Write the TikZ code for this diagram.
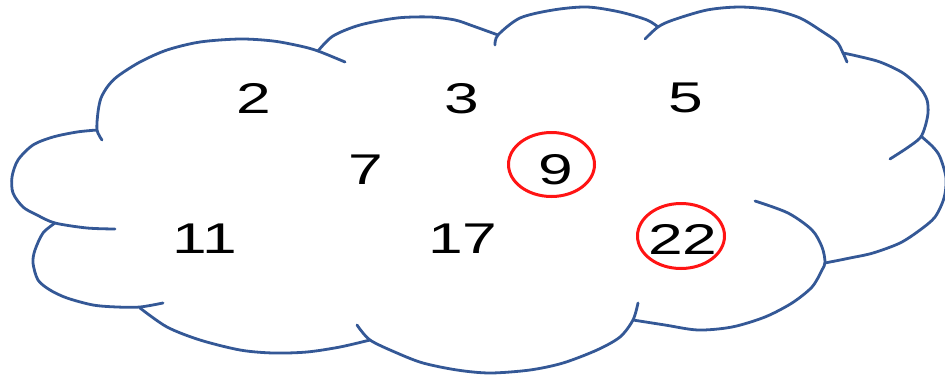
\documentclass[tikz,border=0pt]{standalone}
\usepackage{fontspec}
\setmainfont{Liberation Sans}
\usepackage{graphicx}
\definecolor{cloudblue}{RGB}{52,88,150}
\definecolor{ringred}{RGB}{255,20,20}
\begin{document}
\begin{tikzpicture}[x=1pt,y=-1pt,
  puff/.style={draw=cloudblue, line width=2.8pt, line cap=round, line join=round},
  ring/.style={draw=ringred, line width=3pt},
  num/.style={font=\fontsize{43}{43}\selectfont, inner sep=0pt, text=black}]
\useasboundingbox (0,0) rectangle (945,375);

% cloud outline: one arc per puff, with the short inner tails
\draw[puff] plot[smooth] coordinates {(102,140) (97,130) (98,112) (101,98) (108,86) (118,76) (140,62) (167,50) (200,42) (240,39) (273,41) (300,46) (318,51) (345,62)};
\draw[puff] plot[smooth] coordinates {(318,51) (333,36) (360,25) (397,18) (430,17) (455,20) (473,26) (498,35)};
\draw[puff] plot[smooth] coordinates {(495,45) (498,35) (520,18) (553,10) (587,7) (620,12) (647,20) (658,27)};
\draw[puff] plot[smooth] coordinates {(645,39) (658,27) (673,20) (707,10) (740,7) (773,10) (800,18) (823,32) (837,42) (843,53) (847,62)};
\draw[puff] plot[smooth] coordinates {(843,53) (857,56) (880,62) (903,73) (920,88) (927,100) (928,113) (925,127) (920,138) (907,148) (890,159)};
\draw[puff] plot[smooth] coordinates {(825,263) (850,258) (873,253) (900,243) (920,230) (935,217) (944,198) (946,178) (940,157) (933,147) (922,137)};
\draw[puff] plot[smooth] coordinates {(633,320) (665,325) (698,330) (732,327) (765,317) (792,303) (812,287) (822,270) (825,262) (822,247) (812,230) (788,213) (755,201)};
\draw[puff] plot[smooth] coordinates {(357,325) (370,340) (397,353) (423,363) (457,370) (490,373) (530,370) (563,363) (597,350) (620,337) (633,320) (638,303)};
\draw[puff] plot[smooth] coordinates {(140,308) (167,327) (200,340) (240,350) (273,353) (307,352) (340,347) (370,340)};
\draw[puff] plot[smooth] coordinates {(55,223) (43,233) (35,250) (33,263) (38,280) (50,290) (67,298) (93,305) (117,307) (140,307) (163,303)};
\draw[puff] plot[smooth] coordinates {(97,130) (77,132) (53,137) (33,145) (18,160) (12,177) (13,193) (23,207) (37,215) (55,223) (87,228) (115,229)};

% numbers
\node[num] (n2)  at (254,98)  {\scalebox{1.45}[1]{2}};
\node[num] (n3)  at (462,99)  {\scalebox{1.45}[1]{3}};
\node[num] (n5)  at (686,98)  {\scalebox{1.45}[1]{5}};
\node[num] (n7)  at (366,170) {\scalebox{1.45}[1]{7}};
\node[num] (n9)  at (556,170) {\scalebox{1.45}[1]{9}};
\node[num] (n11) at (205,239) {\scalebox{1.45}[1]{11}};
\node[num] (n17) at (463,239) {\scalebox{1.45}[1]{17}};
\node[num] (n22) at (683,239) {\scalebox{1.45}[1]{22}};

% red rings
\draw[ring] (551.5,164.5) ellipse [x radius=43pt, y radius=32pt];
\draw[ring] (681,236) ellipse [x radius=43.5pt, y radius=32.5pt];
\end{tikzpicture}
\end{document}
